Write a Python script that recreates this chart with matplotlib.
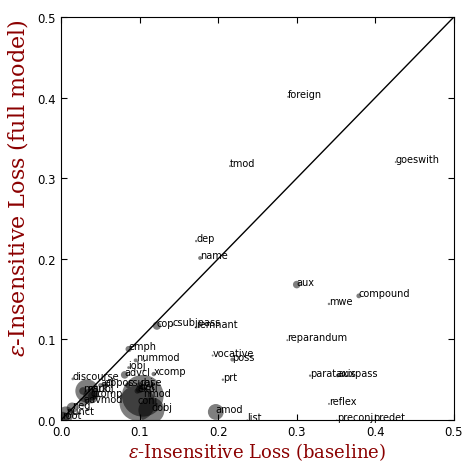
import matplotlib
matplotlib.use("Agg")
import matplotlib.pyplot as plt

plt.rcParams["mathtext.fontset"] = "dejavuserif"

# relation labels, baseline loss, full model loss, bubble size
labels = ["foreign", "tmod", "goeswith", "dep", "name", "aux", "compound", "mwe",
          "reparandum", "cop", "csubjpass", "remnant", "vocative", "poss", "prt",
          "amod", "list", "reflex", "preconj", "predet", "parataxis", "auxpass",
          "discourse", "advcl", "iobj", "xcomp", "nummod", "emph",
          "acl", "appos", "csubj", "case", "nsubj", "mark", "expl", "det",
          "ccomp", "cc", "conj", "nmod", "advmod", "neg", "punct", "root", "dobj"]
baseline = [0.289, 0.215, 0.426, 0.172, 0.177, 0.300, 0.379, 0.341,
            0.288, 0.122, 0.142, 0.172, 0.193, 0.218, 0.206,
            0.197, 0.237, 0.341, 0.351, 0.397, 0.317, 0.352,
            0.015, 0.081, 0.086, 0.118, 0.095, 0.086,
            0.050, 0.055, 0.085, 0.100, 0.033, 0.028, 0.097, 0.100,
            0.038, 0.040, 0.097, 0.104, 0.028, 0.014, 0.006, 0.002, 0.115]
full = [0.401, 0.315, 0.320, 0.222, 0.201, 0.168, 0.154, 0.144,
        0.099, 0.117, 0.118, 0.115, 0.080, 0.075, 0.050,
        0.010, 0.000, 0.020, 0.000, 0.000, 0.055, 0.055,
        0.051, 0.056, 0.065, 0.057, 0.074, 0.088,
        0.043, 0.043, 0.043, 0.043, 0.036, 0.036, 0.036, 0.038,
        0.030, 0.030, 0.021, 0.030, 0.022, 0.015, 0.007, 0.002, 0.012]
sizes = [2, 2, 2, 3, 8, 30, 12, 3,
         2, 35, 3, 3, 2, 8, 3,
         130, 1, 2, 1, 1, 3, 6,
         4, 30, 4, 10, 8, 20,
         10, 12, 15, 20, 280, 30, 15, 30,
         120, 40, 650, 900, 40, 60, 130, 90, 350]

fig = plt.figure(figsize=(4.66, 4.64), dpi=100)
ax = fig.add_axes([0.131, 0.0927, 0.843, 0.8685])

ax.scatter(baseline, full, s=sizes, c="k", alpha=0.5, edgecolors="none")
for lab, x, y in zip(labels, baseline, full):
    ax.text(x, y, lab, fontsize=7)

ax.plot([0, 0.5], [0, 0.5], color="k", lw=1)

ax.set_xlim(0, 0.5)
ax.set_ylim(0, 0.5)
ax.set_xticks([0.0, 0.1, 0.2, 0.3, 0.4, 0.5])
ax.set_yticks([0.0, 0.1, 0.2, 0.3, 0.4, 0.5])
ax.tick_params(direction="in", top=True, right=True, labelsize=8.5, length=4)

ax.set_xlabel(r"$\varepsilon$-Insensitive Loss (baseline)", color="darkred",
              fontsize=13, family="DejaVu Serif", labelpad=2)
ax.set_ylabel(r"$\varepsilon$-Insensitive Loss (full model)", color="darkred",
              fontsize=16, family="DejaVu Serif")
ax.yaxis.set_label_coords(-0.08, 0.578)

fig.savefig("out.png", dpi=100)
